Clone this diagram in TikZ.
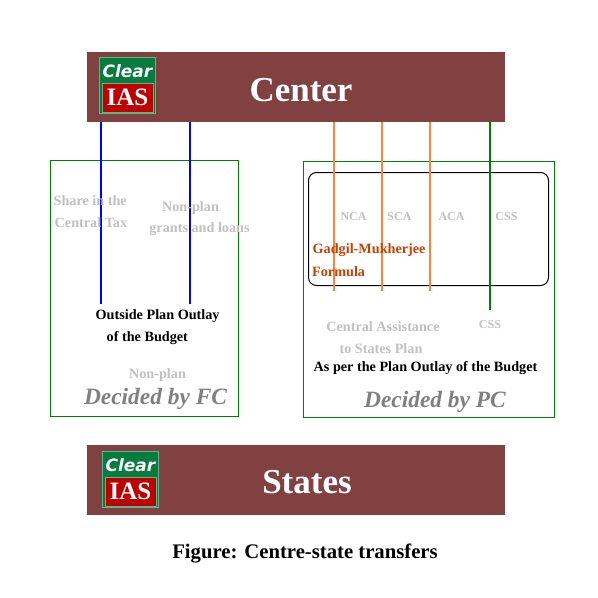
\documentclass[tikz,border=0pt]{standalone}
\usepackage{fontspec}
\setmainfont{Liberation Serif}
\newfontfamily\logofont{DejaVu Sans}
\usepackage{xcolor}
\definecolor{barcolor}{HTML}{824141}
\definecolor{clearcolor}{HTML}{087C3E}
\definecolor{edgecolor}{HTML}{5CB88C}
\definecolor{iascolor}{HTML}{C00000}
\definecolor{boxgreen}{HTML}{008000}
\definecolor{cagrey}{HTML}{C0C0C0}
\definecolor{decgrey}{HTML}{808080}
\definecolor{caorange}{HTML}{FF8040}
\definecolor{formulacolor}{HTML}{CC3F00}
\usepackage{tikz}
\tikzset{
  barbox/.style={fill=barcolor, minimum width=418pt, minimum height=70pt, inner sep=0pt, outer sep=0pt, anchor=north west},
  bartext/.style={white, font=\bfseries\fontsize{35}{35}\selectfont},
  logobox/.style={fill=clearcolor, draw=edgecolor, line width=1pt, minimum width=56pt, minimum height=56pt, inner sep=0pt, outer sep=0pt, anchor=north west},
  iasbox/.style={fill=iascolor, draw=edgecolor, line width=.6pt, minimum width=51pt, minimum height=29pt, inner sep=0pt, text=white, font=\bfseries\fontsize{25}{25}\selectfont},
  cleartext/.style={white, inner sep=0pt, font=\logofont\itshape\bfseries\fontsize{17}{17}\selectfont},
  panel/.style={draw=boxgreen, line width=1pt, inner sep=0pt, outer sep=0pt, anchor=north west},
  greytext/.style={cagrey, inner sep=0pt, font=\bfseries\fontsize{14.2}{14.2}\selectfont},
  shorttext/.style={cagrey, inner sep=0pt, font=\bfseries\fontsize{12}{12}\selectfont},
  blacktext/.style={black, inner sep=0pt, font=\bfseries\fontsize{14.2}{14.2}\selectfont},
  decided/.style={decgrey, inner sep=0pt, font=\bfseries\itshape\fontsize{23.4}{23.4}\selectfont},
  planline/.style={line width=1.8pt}
}
\begin{document}
\begin{tikzpicture}[x=1pt, y=-1pt]
  \useasboundingbox (0,0) rectangle (598,598);
  % bars
  \node[barbox] (center) at (87,52) {};
  \node[barbox] (states) at (87,445) {};
  \node[bartext] (centerlabel) at (301,90) {Center};
  \node[bartext] (stateslabel) at (307,482) {States};
  % logos
  \node[logobox] (logotop) at (99.5,57.5) {};
  \node[iasbox] (logotopred) at (127.5,97.5) {IAS};
  \node[cleartext] (logotopclear) at (127.5,71) {Clear};
  \node[logobox] (logobottom) at (102.5,451.5) {};
  \node[iasbox] (logobottomred) at (130.5,491.5) {IAS};
  \node[cleartext] (logobottomclear) at (130.5,465) {Clear};
  % panels
  \node[panel, minimum width=188pt, minimum height=256pt] (fcbox) at (50.5,160.5) {};
  \node[panel, minimum width=251pt, minimum height=256pt] (pcbox) at (303.5,161.5) {};
  \node[draw=black, line width=1pt, rounded corners=8pt, minimum width=240pt, minimum height=113pt, inner sep=0pt, outer sep=0pt, anchor=north west] (formulabox) at (308.5,172.5) {};
  % line ends
  \coordinate (taxend) at (101,304);
  \coordinate (grantend) at (190,304);
  \coordinate (ncaend) at (334,291);
  \coordinate (scaend) at (382,291);
  \coordinate (acaend) at (430,291);
  \coordinate (cssend) at (490,310);
  \draw[planline, blue] (center.south -| taxend) -- (taxend);
  \draw[planline, blue] (center.south -| grantend) -- (grantend);
  \draw[planline, caorange] (center.south -| ncaend) -- (ncaend);
  \draw[planline, caorange] (center.south -| scaend) -- (scaend);
  \draw[planline, caorange] (center.south -| acaend) -- (acaend);
  \draw[planline, boxgreen] (center.south -| cssend) -- (cssend);
  % left panel
  \node[greytext, anchor=west] (share) at (53.5,200.5) {Share in the};
  \node[greytext, anchor=west] (tax) at (54.5,222.5) {Central Tax};
  \node[greytext] (nonplana) at (190.5,208) {Non-plan};
  \node[greytext] (grants) at (199.5,229.5) {grants and loans};
  \node[blacktext, anchor=west] (outside) at (95.5,316.5) {Outside Plan Outlay};
  \node[blacktext, anchor=west] (budget) at (106.5,338.5) {of the Budget};
  \node[greytext] (nonplanb) at (157.5,375) {Non-plan};
  \node[decided] (fc) at (155.5,399) {Decided by FC};
  % right panel
  \node[shorttext] (nca) at (353.5,216.5) {NCA};
  \node[shorttext] (sca) at (399.5,216.5) {SCA};
  \node[shorttext] (aca) at (451.5,216.5) {ACA};
  \node[shorttext] (css) at (506.5,216.5) {CSS};
  \node[blacktext, formulacolor, anchor=west] (gadgil) at (312.5,250) {Gadgil-Mukherjee};
  \node[blacktext, formulacolor, anchor=west] (formulaword) at (312,271.5) {Formula};
  \node[greytext] (assistance) at (383,326.5) {Central Assistance};
  \node[greytext] (plan) at (381,348.5) {to States Plan};
  \node[shorttext] (cssb) at (490,324.5) {CSS};
  \node[blacktext] (asper) at (425.5,368.5) {As per the Plan Outlay of the Budget};
  \node[decided] (pc) at (435,402) {Decided by PC};
  % caption
  \node[black, inner sep=0pt, font=\bfseries\fontsize{20.7}{20.7}\selectfont] (caption) at (305,553) {Figure: Centre-state transfers};
\end{tikzpicture}
\end{document}
